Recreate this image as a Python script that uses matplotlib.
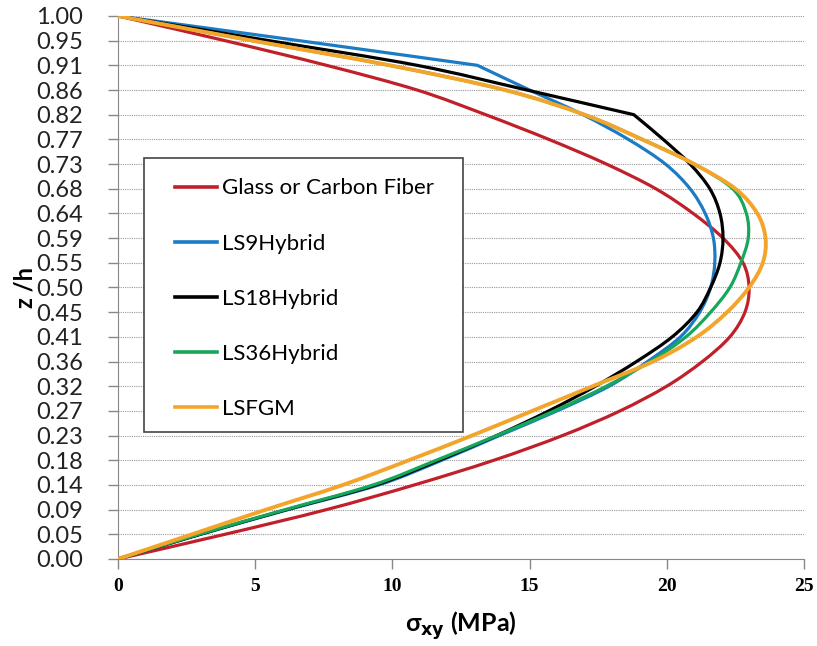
import numpy as np
import matplotlib
matplotlib.use('Agg')
import matplotlib.pyplot as plt
from matplotlib.path import Path
from matplotlib.patches import PathPatch, Rectangle
from matplotlib.lines import Line2D

plt.rcParams['font.family'] = ['Lato', 'DejaVu Sans']
plt.rcParams['mathtext.fontset'] = 'dejavusans'

# z/h levels (23 points, 1/22 steps) and tick labels as printed
z_labels = ['0.00', '0.05', '0.09', '0.14', '0.18', '0.23', '0.27', '0.32',
            '0.36', '0.41', '0.45', '0.50', '0.55', '0.59', '0.64', '0.68',
            '0.73', '0.77', '0.82', '0.86', '0.91', '0.95', '1.00']
z = np.linspace(0, 1, 23)

# shear stress sigma_xy (MPa)
glass = [0, 3.9, 7.6, 10.8, 13.7, 16.2, 18.3, 20.0, 21.3, 22.3, 22.85, 23.0,
         22.78, 22.05, 20.96, 19.6, 17.8, 15.7, 13.4, 10.9, 7.6, 3.9, 0]
ls9 = [0, 3.0, 6.2, 9.5, 11.8, 13.9, 16.0, 17.9, 19.3, 20.5, 21.2, 21.6,
       21.75, 21.7, 21.4, 20.85, 19.95, 18.6, 16.95, 15.0, 13.1, 6.6, 0]
ls18 = [0, 3.0, 6.15, 9.4, 11.7, 13.8, 15.7, 17.4, 18.9, 20.2, 21.1, 21.6,
        21.94, 22.05, 21.94, 21.57, 20.85, 19.87, 18.8, 14.9, 10.9, 5.5, 0]
ls36 = [0, 2.95, 6.1, 9.3, 11.6, 13.8, 15.9, 17.8, 19.4, 20.7, 21.6, 22.3,
        22.7, 22.97, 22.9, 22.4, 21.0, 19.1, 17.0, 14.1, 9.9, 4.9, 0]
lsfgm = [0, 2.7, 5.4, 8.2, 10.6, 12.9, 15.1, 17.3, 19.5, 21.1, 22.2, 23.0,
         23.5, 23.6, 23.3, 22.5, 21.0, 19.1, 17.0, 14.1, 9.9, 4.9, 0]

# points where the hybrid curves break sharply (ply interface)
ls9_kink = [20]
ls18_kink = [18]

series = [('Glass or Carbon Fiber', glass, [], '#C0202A', 2.3),
          ('LS9Hybrid', ls9, ls9_kink, '#1B7BC4', 2.3),
          ('LS18Hybrid', ls18, ls18_kink, '#000000', 2.3),
          ('LS36Hybrid', ls36, [], '#16A85A', 2.3),
          ('LSFGM', lsfgm, [], '#F2A52A', 2.8)]


def smooth_path(xs, ys, kinks):
    # Excel-style smoothed line: cubic Bezier through every data point,
    # with sharp corners kept at the kink points
    p = np.column_stack([xs, ys]).astype(float)
    n = len(p)

    def tangent(i):
        if i in kinks or i == 0 or i == n - 1:
            return None
        return (p[i + 1] - p[i - 1]) / 6

    verts = [p[0]]
    codes = [Path.MOVETO]
    for i in range(n - 1):
        seg = (p[i + 1] - p[i]) / 3
        t0 = tangent(i)
        t1 = tangent(i + 1)
        c1 = p[i] + (seg if t0 is None else t0)
        c2 = p[i + 1] - (seg if t1 is None else t1)
        verts += [c1, c2, p[i + 1]]
        codes += [Path.CURVE4] * 3
    return Path(verts, codes)


fig = plt.figure(figsize=(8.17, 6.46), dpi=100)
ax = fig.add_axes([0.1444, 0.1347, 0.8396, 0.8406])

handles = []
for name, vals, kinks, col, lw in series:
    ax.add_patch(PathPatch(smooth_path(vals, z, kinks), fill=False, edgecolor=col,
                           lw=lw, capstyle='round', joinstyle='round', zorder=3))
    handles.append(Line2D([], [], color=col, lw=2.6, label=name))

ax.set_xlim(0, 25)
ax.set_ylim(0, 1)
ax.set_xticks([0, 5, 10, 15, 20, 25])
ax.set_xticklabels(['0', '5', '10', '15', '20', '25'],
                   family='Liberation Serif', fontweight='bold', fontsize=14)
ax.set_yticks(z)
ax.set_yticklabels(z_labels, fontsize=17, color='#222222')
ax.yaxis.grid(True, linestyle=(0, (1, 1)), color='#999999', lw=0.8)
ax.set_axisbelow(True)
ax.tick_params(axis='both', direction='out', length=7, color='#888888', width=1)
ax.tick_params(axis='x', pad=7)
ax.tick_params(axis='y', pad=18)
for s in ['top', 'right']:
    ax.spines[s].set_visible(False)
for s in ['left', 'bottom']:
    ax.spines[s].set_color('#888888')

ax.set_xlabel(r'σ$_{\bf xy}$ (MPa)', fontsize=18, fontweight='bold', labelpad=10)
ax.set_ylabel('z /h', fontsize=17, fontweight='bold', labelpad=0)

# legend frame drawn separately so its padding matches the original
ax.add_patch(Rectangle((0.0379, 0.2339), 0.465, 0.5046, transform=ax.transAxes,
                       facecolor='white', edgecolor='#444444', lw=1.2, zorder=4))
leg = ax.legend(handles=handles, loc='upper left', bbox_to_anchor=(0.0831, 0.7008),
                fontsize=16, frameon=False, borderaxespad=0, borderpad=0,
                labelspacing=1.58, handlelength=1.9, handletextpad=0.2)
leg.set_zorder(5)

fig.savefig('out.png', dpi=100)
